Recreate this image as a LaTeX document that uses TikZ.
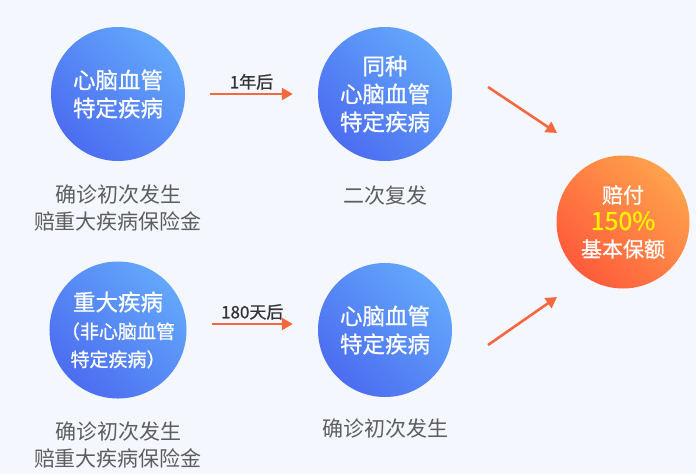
\documentclass[tikz,border=0pt]{standalone}
\usepackage{fontspec}
\setmainfont{Noto Sans CJK SC}
\newfontfamily\medfont{Noto Sans CJK SC}[FakeBold = 0.8]
\usetikzlibrary{arrows.meta}
\usetikzlibrary{positioning}
\definecolor{bgblue}{HTML}{F4F7FE}
\definecolor{blueA}{HTML}{63A7FB}
\definecolor{blueB}{HTML}{4C6DF1}
\definecolor{orangeA}{HTML}{FFA24C}
\definecolor{orangeB}{HTML}{FF5B3B}
\definecolor{arrowred}{HTML}{F4673F}
\definecolor{capgray}{HTML}{5E5E5E}
\definecolor{pctyellow}{HTML}{FFF200}
\tikzstyle{disease} = [circle, minimum size = 134pt, inner sep = 0pt, align = center, text = white, top color = blueA, bottom color = blueB, shading angle = -45, font = \medfont\fontsize{22.5}{28}\selectfont]
\tikzstyle{payout} = [circle, minimum size = 133pt, inner sep = 0pt, align = center, text = white, top color = orangeA, bottom color = orangeB, shading angle = -45, font = \medfont\fontsize{21}{27}\selectfont]
\tikzstyle{caption} = [align = center, text = capgray, font = \fontsize{21}{27}\selectfont]
\tikzstyle{arrow} = [line width = 2.6pt, arrowred, -{Triangle[length = 11pt, width = 12pt]}]
\tikzstyle{delay} = [text = black!80, font = \medfont\fontsize{17}{20}\selectfont, inner sep = 2pt]
\begin{document}
\begin{tikzpicture}[x = 1pt, y = -1pt]
	\fill[bgblue] (0,0) rectangle (696,474);
	\useasboundingbox (0,0) rectangle (696,474);
	
	% Upper row
	\node[disease] (cvd1) at (118,94) {心脑血管\\特定疾病};
	\node[disease] (cvd2) at (385,94) {同种\\心脑血管\\特定疾病};
	\node[caption, below = 20pt of cvd1] (cap1) {确诊初次发生\\赔重大疾病保险金};
	\node[caption, below = 21pt of cvd2] (cap2) {二次复发};
	
	% Lower row
	\node[disease] (major) at (118,330) {重大疾病\\{\fontsize{19}{33}\selectfont（非心脑血管}\\{\fontsize{19}{28}\selectfont 特定疾病）}};
	\node[disease] (cvd3) at (385,330) {心脑血管\\特定疾病};
	\node[caption, below = 20pt of major] (cap3) {确诊初次发生\\赔重大疾病保险金};
	\node[caption, below = 18pt of cvd3] (cap4) {确诊初次发生};
	
	% Result
	\node[payout] (pay) at (623,222) {赔付\\{\fontsize{25}{27}\selectfont\color{pctyellow}150\%}\\基本保额};
	
	% Connect all nodes defined above
	\draw[arrow, shorten <= 25pt, shorten >= 25pt] (cvd1) -- node[delay, above = 1pt] (gap1) {1年后} (cvd2);
	\draw[arrow, shorten <= 25pt, shorten >= 25pt] (cvd3 -| major.east) ++(0,-6) coordinate (lstart) -- (lstart -| cvd3.west) node[delay, pos = 0.5, above = 1pt] (gap2) {180天后};
	
	% Diagonal arrows into the result
	\coordinate (uin) at (488,87);
	\coordinate (uout) at (557,133);
	\coordinate (lin) at (488,345);
	\coordinate (lout) at (557,297);
	\draw[arrow] (uin) -- (uout);
	\draw[arrow] (lin) -- (lout);
	
\end{tikzpicture}
\end{document}
